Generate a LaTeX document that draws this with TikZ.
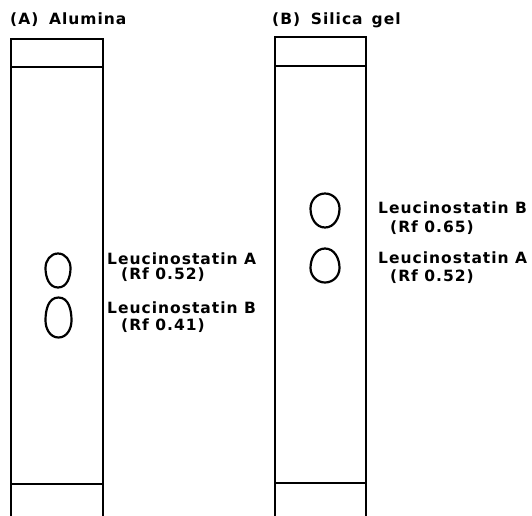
\documentclass[tikz,border=0pt]{standalone}
\usepackage{fontspec}
\setmainfont{DejaVu Sans}[LetterSpace=6.5,BoldFont={DejaVu Sans Bold}]
\begin{document}
\begin{tikzpicture}[x=1pt,y=-1pt,
  plate/.style={line width=2.2pt},
  spot/.style={line width=2.2pt},
  lbl/.style={anchor=west,inner sep=0pt,font=\fontsize{15.5}{17}\selectfont\bfseries},
  ttl/.style={anchor=west,inner sep=0pt,font=\fontsize{15.5}{17}\selectfont\bfseries}]
\useasboundingbox (0,0) rectangle (532,515);
% titles
\node[ttl] (ta) at (10,20) {(A)\; Alumina};
\node[ttl] (tb) at (272,20) {(B)\; Silica\, gel};
% plate A
\coordinate (a1) at (11,39);
\coordinate (a2) at (103,39);
\coordinate (a3) at (11,518);
\coordinate (a4) at (103,518);
\draw[plate] (a3) -- (a1) -- (a2) -- (a4);
\coordinate (al1) at (11,67);
\coordinate (ar1) at (103,67);
\draw[plate] (al1) -- (ar1);
\coordinate (al2) at (11,484);
\coordinate (ar2) at (103,484);
\draw[plate] (al2) -- (ar2);
% plate B
\coordinate (b1) at (275,37);
\coordinate (b2) at (366,37);
\coordinate (b3) at (275,518);
\coordinate (b4) at (366,518);
\draw[plate] (b3) -- (b1) -- (b2) -- (b4);
\coordinate (bl1) at (275,66);
\coordinate (br1) at (366,66);
\draw[plate] (bl1) -- (br1);
\coordinate (bl2) at (275,483);
\coordinate (br2) at (366,483);
\draw[plate] (bl2) -- (br2);
% egg-shaped spots: {cx}{cy}{half width}{half height}{shift of widest point}
\newcommand{\eggspot}[5]{%
  \draw[spot] (#1,#2-#4) to[out=0,in=90] (#1+#3,#2+#5) to[out=-90,in=0] (#1,#2+#4)
    to[out=180,in=-90] (#1-#3,#2+#5) to[out=90,in=180] cycle;}
% spots A
\eggspot{58}{270.5}{12.5}{17}{-2.5}
\eggspot{58.5}{317.5}{13}{20}{3}
% spots B
\eggspot{325}{210.5}{14.5}{17}{-2}
\eggspot{325}{265.5}{14.5}{17}{2.5}
% labels A
\node[lbl] (la1) at (107,258.5) {Leucinostatin A};
\node[lbl] (la2) at (121,275) {(Rf 0.52)};
\node[lbl] (la3) at (107,307.5) {Leucinostatin B};
\node[lbl] (la4) at (121,326) {(Rf 0.41)};
% labels B
\node[lbl] (lb1) at (378,207.5) {Leucinostatin B};
\node[lbl] (lb2) at (390,228) {(Rf 0.65)};
\node[lbl] (lb3) at (378,257.5) {Leucinostatin A};
\node[lbl] (lb4) at (390,277) {(Rf 0.52)};
\end{tikzpicture}
\end{document}
